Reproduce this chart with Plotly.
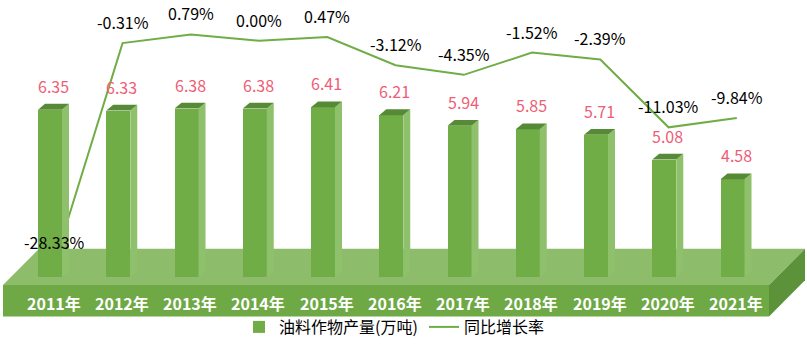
import plotly.graph_objects as go

# ---------------- data ----------------
years = ["2011年", "2012年", "2013年", "2014年", "2015年", "2016年",
         "2017年", "2018年", "2019年", "2020年", "2021年"]
output_values = [6.35, 6.33, 6.38, 6.38, 6.41, 6.21, 5.94, 5.85, 5.71, 5.08, 4.58]
growth_rates = [-28.33, -0.31, 0.79, 0.00, 0.47, -3.12, -4.35, -1.52, -2.39, -11.03, -9.84]
bar_name = "油料作物产量(万吨)"
line_name = "同比增长率"

# ---------------- styling / geometry ----------------
W, H = 807, 344
FONT = "Noto Sans CJK SC, Noto Sans, sans-serif"
GREEN = "#70ad47"
GREEN_SIDE = "#8fc06c"
GREEN_TOP = "#578a36"
FLOOR_TOP = "#8dbd6b"
FLOOR_FRONT = "#6ea945"
FLOOR_SIDE = "#5c933a"
LABEL_RED = "#ee5d75"

PX_PER_CAT = 68.25          # pixels between categories
FIRST_CAT_PX = 50           # pixel x of first bar center
X0 = -FIRST_CAT_PX / PX_PER_CAT
X1 = X0 + W / PX_PER_CAT

BAR_PX_PER_UNIT = 40.1
BAR_TOP_REF_PX = 112        # pixel y of the first bar's top
Y2_MAX = output_values[0] + BAR_TOP_REF_PX / BAR_PX_PER_UNIT
Y2_MIN = Y2_MAX - H / BAR_PX_PER_UNIT
BAR_BASE = Y2_MAX - 283 / BAR_PX_PER_UNIT

LINE_PX_PER_UNIT = 8.02
ZERO_PX = 41.5
Y_MAX = ZERO_PX / LINE_PX_PER_UNIT
Y_MIN = Y_MAX - H / LINE_PX_PER_UNIT

BAR_W = 24 / PX_PER_CAT
DEPTH_X = 7 / PX_PER_CAT
DEPTH_Y = 6 / BAR_PX_PER_UNIT
LINE_OFFSET = 4.3 / PX_PER_CAT


def px(x):
    return x / W


def py(y):
    return 1 - y / H


idx = list(range(len(years)))

fig = go.Figure()

# line (primary axis, drawn behind the bars)
fig.add_trace(go.Scatter(
    x=[i + LINE_OFFSET for i in idx], y=growth_rates, mode="lines",
    name=line_name, line=dict(color=GREEN, width=2), yaxis="y",
    hoverinfo="skip"))

# bars (overlay axis)
fig.add_trace(go.Bar(
    x=idx, y=[v - BAR_BASE for v in output_values], base=BAR_BASE,
    width=BAR_W, name=bar_name, marker=dict(color=GREEN, line=dict(width=0)),
    yaxis="y2", hoverinfo="skip"))

shapes = []
# floor platform (decoration, paper coordinates)
fl, fr, ftop, fback, fbot, fd = 3, 769, 291, 254, 323, 36
shapes.append(dict(type="path", xref="paper", yref="paper", layer="below",
                   path=f"M{px(fl)},{py(ftop)} L{px(fr)},{py(ftop)} L{px(fr+fd)},{py(fback)} "
                        f"L{px(fl+fd)},{py(fback)} Z",
                   fillcolor=FLOOR_TOP, line=dict(width=0)))
shapes.append(dict(type="rect", xref="paper", yref="paper", layer="below",
                   x0=px(fl), x1=px(fr), y0=py(fbot), y1=py(ftop),
                   fillcolor=FLOOR_FRONT, line=dict(width=0)))
shapes.append(dict(type="path", xref="paper", yref="paper", layer="below",
                   path=f"M{px(fr)},{py(ftop)} L{px(fr+fd)},{py(fback)} L{px(fr+fd)},{py(fbot-37)} "
                        f"L{px(fr)},{py(fbot)} Z",
                   fillcolor=FLOOR_SIDE, line=dict(width=0)))

# 3D faces for each bar (from data values through the axes)
for i, v in zip(idx, output_values):
    xl, xr = i - BAR_W / 2, i + BAR_W / 2
    shapes.append(dict(type="path", xref="x", yref="y2", layer="above",
                       path=f"M{xr},{BAR_BASE} L{xr},{v} L{xr+DEPTH_X},{v+DEPTH_Y} "
                            f"L{xr+DEPTH_X},{BAR_BASE+DEPTH_Y} Z",
                       fillcolor=GREEN_SIDE, line=dict(width=0)))
    shapes.append(dict(type="path", xref="x", yref="y2", layer="above",
                       path=f"M{xl},{v} L{xl+DEPTH_X},{v+DEPTH_Y} L{xr+DEPTH_X},{v+DEPTH_Y} "
                            f"L{xr},{v} Z",
                       fillcolor=GREEN_TOP, line=dict(width=0)))

annotations = []
for i, v in zip(idx, output_values):
    annotations.append(dict(x=i + 3.7 / PX_PER_CAT, y=v, xref="x", yref="y2",
                            text=f"{v:.2f}", showarrow=False, yanchor="middle",
                            yshift=24, font=dict(family=FONT, size=16, color=LABEL_RED)))
for i, g in zip(idx, growth_rates):
    annotations.append(dict(x=i + LINE_OFFSET, y=g, xref="x", yref="y",
                            text=f"{g:.2f}%", showarrow=False, yanchor="middle",
                            yshift=21, font=dict(family=FONT, size=16, color="black")))
for i, yr in zip(idx, years):
    annotations.append(dict(x=i + 3.5 / PX_PER_CAT, y=py(309), xref="x", yref="paper",
                            text=f"<b>{yr}</b>", showarrow=False, yanchor="middle",
                            borderpad=0,
                            font=dict(family=FONT, size=16, color="white")))

fig.update_layout(
    width=W, height=H,
    margin=dict(l=0, r=0, t=0, b=0),
    paper_bgcolor="white", plot_bgcolor="white",
    showlegend=True,
    legend=dict(orientation="h", x=px(239), y=py(334), xanchor="left", yanchor="middle",
                font=dict(family=FONT, size=16, color="black"),
                bgcolor="rgba(0,0,0,0)", traceorder="reversed", itemclick=False,
                entrywidth=140, entrywidthmode="pixels"),
    xaxis=dict(range=[X0, X1], visible=False, fixedrange=True),
    yaxis=dict(range=[Y_MIN, Y_MAX], visible=False, fixedrange=True),
    yaxis2=dict(range=[Y2_MIN, Y2_MAX], visible=False, overlaying="y", fixedrange=True),
    shapes=shapes, annotations=annotations,
    bargap=0,
)

fig.write_html("out.html", config={"displayModeBar": False})
